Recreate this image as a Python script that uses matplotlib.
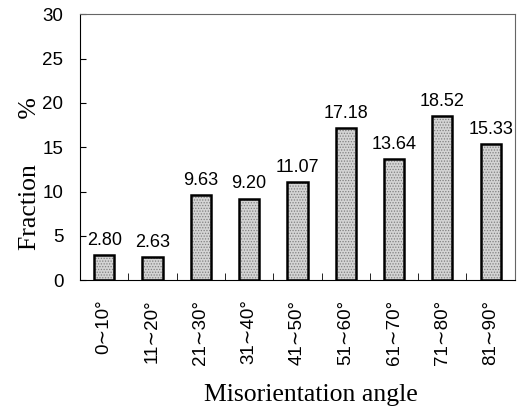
import matplotlib.pyplot as plt
import numpy as np

CATEGORIES = ["0∼10°", "11∼20°", "21∼30°", "31∼40°", "41∼50°",
              "51∼60°", "61∼70°", "71∼80°", "81∼90°"]
FRACTIONS = [2.80, 2.63, 9.63, 9.20, 11.07, 17.18, 13.64, 18.52, 15.33]
Y_TICKS = [0, 5, 10, 15, 20, 25, 30]

SANS = ["Liberation Sans", "DejaVu Sans"]
SERIF = ["Liberation Serif", "DejaVu Serif"]

plt.rcParams["hatch.linewidth"] = 0.6

fig = plt.figure(figsize=(5.2, 4.09), dpi=100)
ax = fig.add_axes([0.154, 0.315, 0.836, 0.65])

x = np.arange(len(CATEGORIES))
# stippled grey fill, then the black outline on top
ax.bar(x, FRACTIONS, width=0.42, color="#d4d4d4", edgecolor="#808080",
       linewidth=0, hatch="......")
bars = ax.bar(x, FRACTIONS, width=0.42, fill=False, edgecolor="black",
              linewidth=1.8)
for b, v in zip(bars, FRACTIONS):
    ax.text(b.get_x() + b.get_width() / 2, v + 0.7, f"{v:.2f}",
            ha="center", va="bottom", fontsize=13, family=SANS)

ax.set_xlim(-0.5, len(CATEGORIES) - 0.5)
ax.set_ylim(0, 30)
ax.set_yticks(Y_TICKS)
ax.set_yticklabels([str(t) for t in Y_TICKS], family=SANS, fontsize=13.5)

ax.set_xticks(x)
ax.set_xticklabels(CATEGORIES, rotation=90, family=SANS, fontsize=13.5)
ax.tick_params(axis="x", length=0, pad=14)
ax.set_xticks(x[:-1] + 0.5, minor=True)
ax.tick_params(axis="x", which="minor", direction="in", length=5)
ax.tick_params(axis="y", direction="in", length=4, pad=12)

for s in ax.spines.values():
    s.set_linewidth(0.8)
    s.set_color("#666666")
ax.spines["left"].set_color("black")
ax.spines["bottom"].set_color("black")

ax.set_xlabel("Misorientation angle", family=SERIF, fontsize=18.5)
ax.xaxis.set_label_coords(0.53, -0.39)
ax.set_ylabel("Fraction       %", family=SERIF, fontsize=18.5)
ax.yaxis.set_label_coords(-0.09, 0.40)

fig.savefig("out.png", dpi=100)
